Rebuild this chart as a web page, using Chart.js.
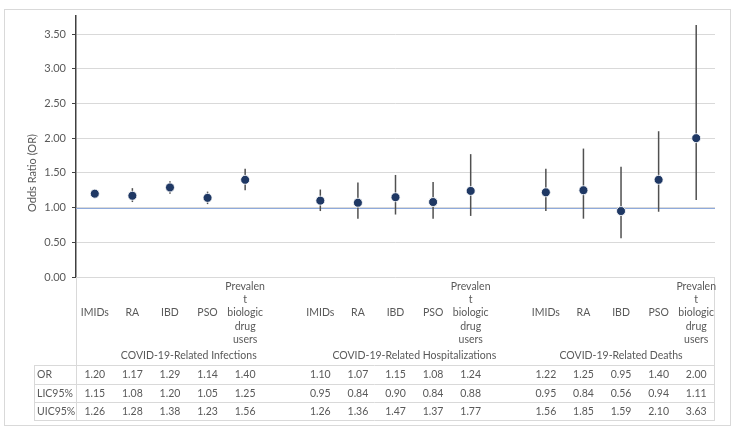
<!DOCTYPE html>
<html>
<head>
<meta charset="utf-8">
<script src="https://cdn.jsdelivr.net/npm/chart.js@4"></script>
<style>
  body { margin: 0; background: #fff; }
  canvas { display: block; }
</style>
</head>
<body>
<canvas id="orChart" width="741" height="427"></canvas>
<script>
// Categorías (las vacías separan los grupos)
const categories = [
    'IMIDs', 'RA', 'IBD', 'PSO', ['Prevalen', 't', 'biologic', 'drug', 'users'], '',
    'IMIDs', 'RA', 'IBD', 'PSO', ['Prevalen', 't', 'biologic', 'drug', 'users'], '',
    'IMIDs', 'RA', 'IBD', 'PSO', ['Prevalen', 't', 'biologic', 'drug', 'users']
];
const groupNames = ['COVID-19-Related Infections', 'COVID-19-Related Hospitalizations', 'COVID-19-Related Deaths'];
const groupOf = [0, 0, 0, 0, 0, 0, 1, 1, 1, 1, 1, 1, 2, 2, 2, 2, 2];

// Valores de la tabla
const orValues  = [1.20, 1.17, 1.29, 1.14, 1.40, null, 1.10, 1.07, 1.15, 1.08, 1.24, null, 1.22, 1.25, 0.95, 1.40, 2.00];
const lic95     = [1.15, 1.08, 1.20, 1.05, 1.25, null, 0.95, 0.84, 0.90, 0.84, 0.88, null, 0.95, 0.84, 0.56, 0.94, 1.11];
const uic95     = [1.26, 1.28, 1.38, 1.23, 1.56, null, 1.26, 1.36, 1.47, 1.37, 1.77, null, 1.56, 1.85, 1.59, 2.10, 3.63];
const rowLabels = ['OR', 'LIC95%', 'UIC95%'];

const FONT = 'Lato, "Open Sans", sans-serif';
const TEXT = '#595959';
const LINE = '#D9D9D9';

// Línea de referencia en OR = 1 y barras de error
const errorBarsPlugin = {
    id: 'errorBars',
    beforeDatasetsDraw(chart) {
        const { ctx, chartArea, scales: { x, y } } = chart;
        ctx.save();
        // referencia
        const yRef = Math.round(y.getPixelForValue(1)) + 0.5;
        ctx.strokeStyle = '#8FAADC';
        ctx.lineWidth = 1;
        ctx.beginPath();
        ctx.moveTo(chartArea.left, yRef);
        ctx.lineTo(chartArea.right, yRef);
        ctx.stroke();
        // intervalos
        ctx.strokeStyle = '#505050';
        ctx.lineWidth = 1.5;
        orValues.forEach((v, i) => {
            if (v === null) return;
            const px = x.getPixelForValue(i);
            ctx.beginPath();
            ctx.moveTo(px, y.getPixelForValue(lic95[i]));
            ctx.lineTo(px, y.getPixelForValue(uic95[i]));
            ctx.stroke();
        });
        ctx.restore();
    }
};

// Etiquetas de categoría, grupos y tabla de datos
const dataTablePlugin = {
    id: 'dataTable',
    afterDraw(chart) {
        const { ctx, chartArea, scales: { x } } = chart;
        const left = chartArea.left, right = chartArea.right, top = chartArea.bottom;
        const tableLeft = 34;
        const rowLines = [365, 383.5, 402, 420];
        ctx.save();

        // bordes
        ctx.strokeStyle = LINE;
        ctx.lineWidth = 1;
        ctx.beginPath();
        ctx.moveTo(left + 0.5, top); ctx.lineTo(left + 0.5, rowLines[3]);
        ctx.moveTo(right - 0.5, top); ctx.lineTo(right - 0.5, rowLines[3]);
        ctx.moveTo(tableLeft + 0.5, rowLines[0]); ctx.lineTo(tableLeft + 0.5, rowLines[3]);
        rowLines.forEach(ly => {
            const yy = Math.round(ly) + 0.5;
            ctx.moveTo(tableLeft, yy); ctx.lineTo(right, yy);
        });
        ctx.stroke();
        ctx.strokeRect(4.5, 9.5, 726, 416);

        ctx.fillStyle = TEXT;
        ctx.font = '10.5px ' + FONT;
        ctx.textBaseline = 'middle';

        // categorías
        ctx.textAlign = 'center';
        const lineH = 13.2;
        categories.forEach((c, i) => {
            const lines = Array.isArray(c) ? c : [c];
            const px = x.getPixelForValue(i);
            const y0 = 313 - (lines.length - 1) / 2 * lineH;
            lines.forEach((t, k) => ctx.fillText(t, px, y0 + k * lineH));
        });

        // grupos
        groupNames.forEach((g, gi) => {
            const idx = groupOf.map((v, i) => v === gi ? i : -1).filter(i => i >= 0);
            const cx = (x.getPixelForValue(idx[0]) + x.getPixelForValue(idx[idx.length - 1])) / 2;
            ctx.fillText(g, cx, 356);
        });

        // filas de la tabla
        const rows = [orValues, lic95, uic95];
        rows.forEach((row, r) => {
            const ry = (rowLines[r] + rowLines[r + 1]) / 2 + 0.5;
            ctx.textAlign = 'left';
            ctx.fillText(rowLabels[r], 37, ry);
            ctx.textAlign = 'center';
            row.forEach((v, i) => {
                if (v === null) return;
                ctx.fillText(v.toFixed(2), x.getPixelForValue(i), ry);
            });
        });

        // título del eje Y
        ctx.font = '11px ' + FONT;
        ctx.translate(32, 173);
        ctx.rotate(-Math.PI / 2);
        ctx.textAlign = 'center';
        ctx.fillText('Odds Ratio (OR)', 0, 0);
        ctx.restore();
    }
};

new Chart(document.getElementById('orChart'), {
    type: 'line',
    data: {
        labels: categories,
        datasets: [{
            label: 'OR',
            data: orValues,
            showLine: false,
            pointRadius: 4.5,
            pointHoverRadius: 4.5,
            pointBackgroundColor: '#1F3864',
            pointBorderColor: 'rgba(255,255,255,0.85)',
            pointBorderWidth: 1
        }]
    },
    options: {
        responsive: false,
        animation: false,
        devicePixelRatio: 1,
        layout: { padding: { left: 0, top: 16, right: 26, bottom: 150 } },
        plugins: {
            legend: { display: false },
            tooltip: { enabled: false }
        },
        scales: {
            x: { display: false, offset: true },
            y: {
                min: 0,
                max: 3.76,
                afterFit(scale) { scale.width = 76; },
                afterBuildTicks(scale) {
                    scale.ticks = scale.ticks.filter(t => Math.abs(t.value * 2 - Math.round(t.value * 2)) < 1e-6);
                },
                ticks: {
                    stepSize: 0.5,
                    padding: 6,
                    color: TEXT,
                    font: { family: FONT, size: 11 },
                    callback: v => Number(v).toFixed(2)
                },
                grid: {
                    color: LINE,
                    tickColor: '#404040',
                    tickLength: 4
                },
                border: { color: '#404040', width: 1.5 }
            }
        }
    },
    plugins: [errorBarsPlugin, dataTablePlugin]
});
</script>
</body>
</html>
